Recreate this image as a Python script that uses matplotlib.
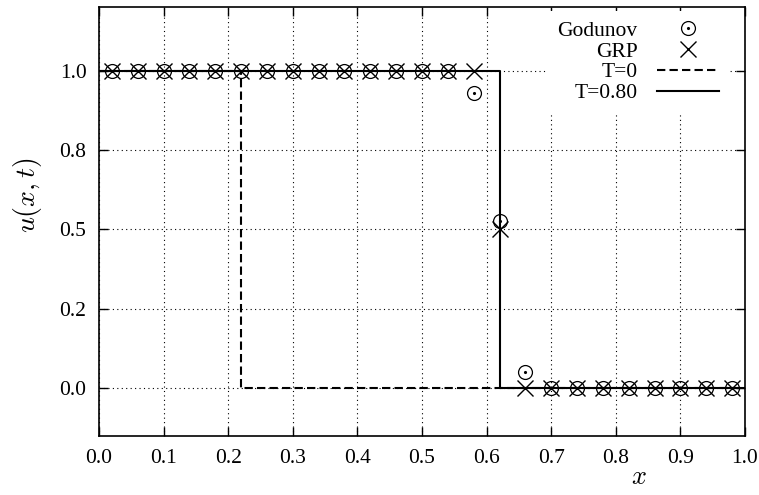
import numpy as np
import matplotlib
matplotlib.use('Agg')
import matplotlib.pyplot as plt
from matplotlib.legend_handler import HandlerTuple

plt.rcParams['font.family'] = ['Liberation Serif', 'DejaVu Serif']
plt.rcParams['mathtext.fontset'] = 'cm'

# cell centres and solutions at T=0.80
x_cells = [0.02, 0.06, 0.10, 0.14, 0.18, 0.22, 0.26, 0.30, 0.34, 0.38, 0.42, 0.46, 0.50,
           0.54, 0.58, 0.62, 0.66, 0.70, 0.74, 0.78, 0.82, 0.86, 0.90, 0.94, 0.98]
u_godunov = [1, 1, 1, 1, 1, 1, 1, 1, 1, 1, 1, 1, 1,
             0.998, 0.93, 0.527, 0.05, 0, 0, 0, 0, 0, 0, 0, 0]
u_grp = [1, 1, 1, 1, 1, 1, 1, 1, 1, 1, 1, 1, 1,
         1, 1, 0.50, 0, 0, 0, 0, 0, 0, 0, 0, 0]

# step profiles
x_t0 = [0.0, 0.22, 0.22, 1.0]
u_t0 = [1.0, 1.0, 0.0, 0.0]
x_t80 = [0.0, 0.62, 0.62, 1.0]
u_t80 = [1.0, 1.0, 0.0, 0.0]

xticks = [0.0, 0.1, 0.2, 0.3, 0.4, 0.5, 0.6, 0.7, 0.8, 0.9, 1.0]
yticks = [0.0, 0.25, 0.5, 0.75, 1.0]

fig = plt.figure(figsize=(7.59, 4.95), dpi=100)
ax = fig.add_axes([0.1304, 0.1192, 0.8512, 0.8667])

ax.grid(True, color='black', linestyle=(0, (1, 3)), linewidth=0.8)
ax.set_axisbelow(True)

l0, = ax.plot(x_t0, u_t0, color='black', linestyle=(0, (4, 2)), linewidth=1.5)
l1, = ax.plot(x_t80, u_t80, color='black', linestyle='-', linewidth=1.5)
c1, = ax.plot(x_cells, u_godunov, linestyle='none', marker='o', markersize=10,
              markerfacecolor='none', markeredgecolor='black', markeredgewidth=0.9)
c2, = ax.plot(x_cells, u_godunov, linestyle='none', marker='.', markersize=2.5,
              color='black')
g1, = ax.plot(x_cells, u_grp, linestyle='none', marker='x', markersize=12,
              markeredgecolor='black', markeredgewidth=1.0)

ax.set_xlim(0, 1)
ax.set_ylim(-0.15, 1.2)
ax.set_xticks(xticks)
ax.set_yticks(yticks)
ax.set_xticklabels([f'{v:.1f}' for v in xticks])
ax.set_yticklabels([f'{v:.1f}' for v in yticks])
ax.tick_params(direction='in', length=6.5, width=1.0, top=True, right=True,
               labelsize=15.5)
ax.tick_params(axis='x', pad=9.5)
ax.tick_params(axis='y', pad=9)
for s in ax.spines.values():
    s.set_linewidth(1.2)

ax.set_xlabel('$x$', fontsize=19, va='center')
ax.xaxis.set_label_coords(0.835, -0.098)
ax.set_ylabel('$u(x,t)$', fontsize=20, va='center')
ax.yaxis.set_label_coords(-0.111, 0.56)

leg = ax.legend([(c1, c2), g1, l0, l1], ['Godunov', 'GRP', 'T=0', 'T=0.80'],
                handler_map={tuple: HandlerTuple(ndivide=1)},
                loc='upper right', bbox_to_anchor=(0.975, 0.99),
                markerfirst=False, frameon=True, fancybox=False,
                facecolor='white', edgecolor='none', framealpha=1,
                fontsize=15.5, handlelength=2.9, handletextpad=0.9,
                labelspacing=0.03, borderpad=0.45, borderaxespad=0)

fig.savefig('out.png', dpi=100)
